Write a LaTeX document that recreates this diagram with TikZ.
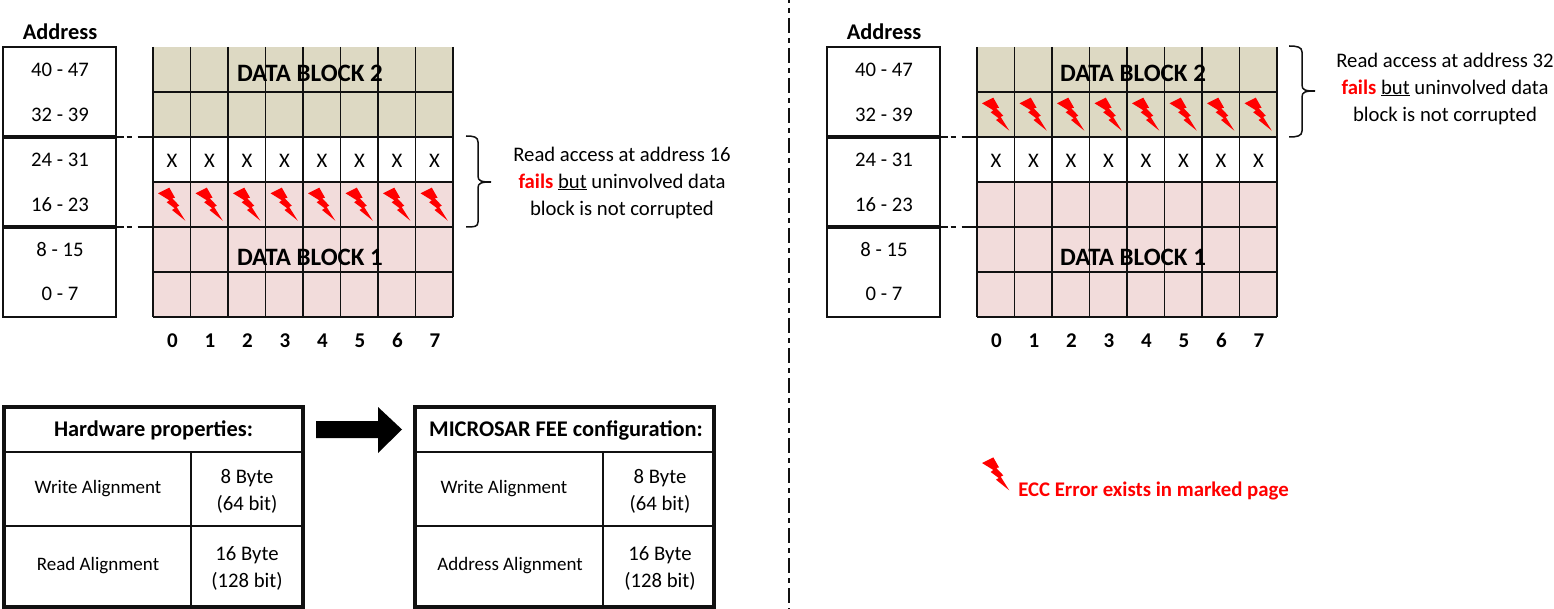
\documentclass[tikz,border=0pt]{standalone}
\usepackage{fontspec}
\setmainfont{Carlito}
\definecolor{tanfill}{HTML}{DDD9C3}
\definecolor{pinkfill}{HTML}{F2DCDB}
\definecolor{boltred}{HTML}{FF0000}
\definecolor{ink}{HTML}{111111}
\tikzset{
  lbl/.style={inner sep=0pt,outer sep=0pt,anchor=center,text=black,font=\fontsize{20.7}{27}\selectfont,align=center},
  rowlbl/.style={lbl,font=\fontsize{19}{27}\selectfont},
  boldlbl/.style={lbl,font=\fontsize{22.4}{27}\selectfont\bfseries},
  collbl/.style={lbl,font=\fontsize{21}{27}\selectfont\bfseries},
  blocklbl/.style={lbl,font=\fontsize{25}{27}\selectfont\bfseries},
  gridline/.style={draw=ink,line width=1.9pt},
  thickline/.style={draw=ink,line width=3.4pt},
  tableouter/.style={draw=ink,line width=3.6pt},
  bolt/.style={fill=boltred,draw=none},
  dashdot/.style={draw=ink,line width=1.8pt,dash pattern=on 15pt off 5pt on 5pt off 5pt,dash phase=12pt},
  shortdash/.style={draw=ink,line width=1.6pt,dash pattern=on 8pt off 2.5pt on 5pt off 6pt on 16pt off 50pt},
  bracepath/.style={draw=ink,line width=1.5pt},
}
\newcommand{\boltat}[3]{% name, x, y
  \fill[bolt,shift={(#2,#3)}] (5,11.3) -- (16.3,5.7) -- (22,15.7) -- (19.3,16.3) -- (26.3,23.7) -- (23.7,25) -- (32.3,38.7) -- (19,28) -- (21.7,26.3) -- (13.7,20.3) -- (16.3,18.3) -- cycle;
}
\newcommand{\panel}[2]{% prefix, x offset
  \begin{scope}[shift={(#2,0)}]
    \node[boldlbl] (#1addr) at (60,32) {Address};
    \node[draw=ink,line width=1.9pt,minimum width=113pt,minimum height=270pt,inner sep=0pt,outer sep=0pt] (#1addrbox) at (59.5,182) {};
    \foreach \t/\y in {40 - 47/69,32 - 39/114,24 - 31/159,16 - 23/204,8 - 15/249,0 - 7/293}{
      \node[lbl] (#1a\y) at (60,\y+1) {\t};
    }
    \fill[tanfill] (153,47) rectangle (453,137);
    \fill[pinkfill] (153,182) rectangle (453,317);
    \foreach \i in {0,...,8}{
      \draw[gridline] ({153+37.5*\i},47) -- ({153+37.5*\i},317);
    }
    \foreach \y in {92,137,182,227,272,317}{
      \draw[gridline] (153,\y) -- (453,\y);
    }
    \foreach \i in {0,...,7}{
      \node[lbl] (#1x\i) at ({172+37.5*\i},160.5) {X};
      \node[collbl] (#1c\i) at ({172.5+37.5*\i},340.5) {\i};
    }
    \coordinate (#1l1) at (116,137);
    \coordinate (#1r1) at (153,137);
    \coordinate (#1l2) at (116,227);
    \coordinate (#1r2) at (153,227);
    \draw[thickline] (3,137) -- (#1l1);
    \draw[thickline] (3,227) -- (#1l2);
    \draw[shortdash] (#1l1) -- (#1r1);
    \draw[shortdash] (#1l2) -- (#1r2);
  \end{scope}
}
\newcommand{\proptable}[3]{% x offset, vertical split, unused
  \begin{scope}[shift={(#1,0)}]
    \draw[tableouter] (4,407) rectangle (303,607);
    \draw[tableouter,line width=2.6pt] (4,452) -- (303,452);
    \draw[gridline] (4,526) -- (303,526);
    \draw[gridline] (#2,452) -- (#2,607);
  \end{scope}
}
\begin{document}
\begin{tikzpicture}[x=1pt,y=-1pt]
\useasboundingbox (0,0) rectangle (1554,609);
\fill[white] (0,0) rectangle (1554,609);

\panel{L}{0}
\panel{R}{824}

% lightning marks
\foreach \i in {0,...,7}{
  \boltat{}{153+37.5*\i}{182}
  \boltat{}{977+37.5*\i}{92}
}
\boltat{}{977}{451.7}

\node[blocklbl] (Lblock2) at (310,73) {DATA BLOCK 2};
\node[blocklbl] (Lblock1) at (310,257) {DATA BLOCK 1};
\node[blocklbl] (Rblock2) at (1133,73) {DATA BLOCK 2};
\node[blocklbl] (Rblock1) at (1133,257) {DATA BLOCK 1};

% braces
\draw[bracepath] (466,136) .. controls (474,136) and (478,137) .. (478,142) -- (478,176) .. controls (478,181) and (481,182) .. (491,182) .. controls (481,182) and (478,183) .. (478,188) -- (478,222) .. controls (478,227) and (474,227) .. (466,227);
\draw[bracepath] (1289,46) .. controls (1297,46) and (1302,47) .. (1302,52) -- (1302,85) .. controls (1302,90) and (1305,91) .. (1315,91) .. controls (1305,91) and (1302,92) .. (1302,97) -- (1302,131) .. controls (1302,136) and (1297,137) .. (1289,137);

\node[lbl] (Lnote) at (622,182.5) {Read access at address 16\\\textcolor{boltred}{\textbf{fails}} \underline{but} uninvolved data\\block is not corrupted};
\node[lbl] (Rnote) at (1445,88.5) {Read access at address 32\\\textcolor{boltred}{\textbf{fails}} \underline{but} uninvolved data\\block is not corrupted};

% divider
\coordinate (divtop) at (789,0);
\coordinate (divbot) at (789,609);
\draw[dashdot] (divtop) -- (divbot);

% tables
\proptable{0}{191}{}
\proptable{411}{192}{}
\node[boldlbl] (Htitle) at (153.5,430.5) {Hardware properties:};
\node[boldlbl] (Mtitle) at (566,430.5) {MICROSAR FEE configuration:};
\node[rowlbl] (Hr1) at (98,489) {Write Alignment};
\node[rowlbl] (Hr2) at (98,566) {Read Alignment};
\node[rowlbl] (Mr1) at (504,489) {Write Alignment};
\node[rowlbl] (Mr2) at (510,566) {Address Alignment};
\node[lbl] (Hv1) at (247,491) {8 Byte\\(64 bit)};
\node[lbl] (Hv2) at (247,568) {16 Byte\\(128 bit)};
\node[lbl] (Mv1) at (660,491) {8 Byte\\(64 bit)};
\node[lbl] (Mv2) at (660,568) {16 Byte\\(128 bit)};

% block arrow
\fill[black] (316,421) -- (378,421) -- (378,407) -- (402,429.5) -- (378,453) -- (378,438) -- (316,438) -- cycle;

% legend
\node[lbl,font=\fontsize{20.8}{27}\selectfont\bfseries,text=boltred] (legend) at (1153.5,490.5) {ECC Error exists in marked page};
\end{tikzpicture}
\end{document}
